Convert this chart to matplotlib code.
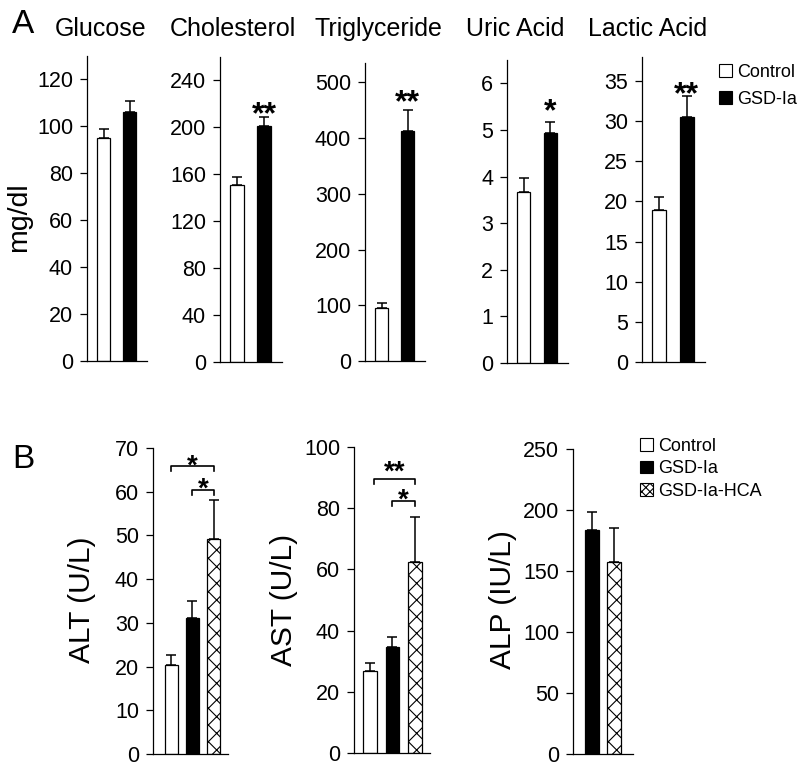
import matplotlib
matplotlib.use('Agg')
import matplotlib.pyplot as plt
from matplotlib.patches import Patch
import numpy as np

plt.rcParams['font.family'] = ['Liberation Sans', 'DejaVu Sans']
plt.rcParams['hatch.linewidth'] = 0.8

# ---- panel A data (mg/dl) ----
a_titles = ["Glucose", "Cholesterol", "Triglyceride", "Uric Acid", "Lactic Acid"]
a_control = [95, 151, 96, 3.66, 18.9]
a_control_err = [4, 7, 9, 0.31, 1.6]
a_gsd = [106, 201, 413, 4.94, 30.5]
a_gsd_err = [5, 8, 37, 0.24, 2.7]
a_ymax = [130, 260, 535, 6.5, 38]
a_step = [20, 40, 100, 1, 5]
a_stars = ["", "**", "**", "*", "**"]
a_star_y = [None, 219, 480, 5.58, 34.5]

# ---- panel B data ----
b_labels = ["ALT (U/L)", "AST (U/L)", "ALP (IU/L)"]
b_control = [20.4, 26.9, None]
b_control_err = [2.3, 2.4, None]
b_gsd = [31.1, 34.8, 183.6]
b_gsd_err = [4.0, 3.2, 15]
b_hca = [49.1, 62.4, 157]
b_hca_err = [8.9, 14.8, 28]
b_ymax = [70, 100, 250]
b_step = [10, 20, 50]
# brackets: (start group, end group, bracket height, label, label height)
b_brackets = [[(0, 2, 65.8, "*", 67.6), (1, 2, 60.3, "*", 62.3)],
              [(0.2, 2, 89.6, "**", 94.3), (1, 2, 82.3, "*", 85.2)],
              []]

W, H = 800, 768
fig = plt.figure(figsize=(W / 100, H / 100), dpi=100)

def px_axes(left, right, top, bottom):
    return fig.add_axes([left / W, 1 - bottom / H, (right - left) / W, (bottom - top) / H])

def style(ax, ymax, step):
    for s in ['top', 'right']:
        ax.spines[s].set_visible(False)
    for s in ['left', 'bottom']:
        ax.spines[s].set_linewidth(0.9)
    ax.set_ylim(0, ymax)
    ax.set_yticks(np.arange(0, ymax + 1e-9, step))
    ax.set_xticks([])
    ax.tick_params(axis='y', direction='out', length=5, width=0.9, labelsize=15.5, pad=5)

def errbar(ax, x, v, e):
    ax.errorbar(x, v, yerr=[[0], [e]], fmt='none', ecolor='black', elinewidth=1.1,
                capsize=3.5, capthick=1.1)

# ---- panel A ----
a_rects = [(87, 147, 56, 361), (220, 282, 57, 362), (365, 425, 63, 361),
           (507, 568, 60, 363), (642, 705, 57, 362)]
a_title_x = [101, 233, 378, 515, 648]
for i in range(5):
    ax = px_axes(*a_rects[i])
    style(ax, a_ymax[i], a_step[i])
    ax.set_xlim(-0.63, 1.66)
    ax.bar(0, a_control[i], 0.5, color='white', edgecolor='black', linewidth=0.9)
    ax.bar(1, a_gsd[i], 0.5, color='black', edgecolor='black', linewidth=0.9)
    errbar(ax, 0, a_control[i], a_control_err[i])
    errbar(ax, 1, a_gsd[i], a_gsd_err[i])
    if a_stars[i]:
        ax.annotate(a_stars[i], (1, a_star_y[i]), xytext=(0, -7), textcoords='offset points',
                    ha='center', va='center', fontsize=23, fontweight='bold')
    fig.text(a_title_x[i] / W, 1 - 36 / H, a_titles[i], ha='center', va='baseline', fontsize=18)

fig.text(12 / W, 1 - 33 / H, "A", fontsize=24, va='baseline')
fig.text(19 / W, 1 - 217 / H, "mg/dl", rotation=90, ha='center', va='center', fontsize=20.5)

fig.legend([Patch(facecolor='white', edgecolor='black', linewidth=0.8),
            Patch(facecolor='black', edgecolor='black', linewidth=0.8)],
           ["Control", "GSD-Ia"], loc='upper left', bbox_to_anchor=(719 / W, 1 - 64 / H),
           frameon=False, fontsize=13, handlelength=0.7, handleheight=0.7,
           handletextpad=0.3, labelspacing=0.55, borderpad=0, borderaxespad=0)

# ---- panel B ----
b_rects = [(153, 228, 448, 754), (354, 430, 447, 753), (573, 633, 449, 754)]
b_xlim = [(-0.88, 2.69), (-0.71, 2.67), (0.14, 2.86)]
b_label_x = [82, 284, 503]
for i in range(3):
    ax = px_axes(*b_rects[i])
    style(ax, b_ymax[i], b_step[i])
    ax.set_xlim(*b_xlim[i])
    if b_control[i] is not None:
        ax.bar(0, b_control[i], 0.6, color='white', edgecolor='black', linewidth=0.9)
        errbar(ax, 0, b_control[i], b_control_err[i])
    ax.bar(1, b_gsd[i], 0.6, color='black', edgecolor='black', linewidth=0.9)
    errbar(ax, 1, b_gsd[i], b_gsd_err[i])
    ax.bar(2, b_hca[i], 0.6, color='white', edgecolor='black', linewidth=0.9, hatch='xx')
    errbar(ax, 2, b_hca[i], b_hca_err[i])
    leg = 0.016 * b_ymax[i]
    for x0, x1, y, lab, ly in b_brackets[i]:
        ax.plot([x0, x0, x1, x1], [y - leg, y, y, y - leg], color='black', lw=1.2,
                clip_on=False)
        ax.annotate(lab, ((x0 + x1) / 2, ly), xytext=(0, -6), textcoords='offset points',
                    ha='center', va='center', fontsize=20, fontweight='bold')
    fig.text(b_label_x[i] / W, 1 - 600 / H, b_labels[i], rotation=90, ha='center',
             va='center', fontsize=21.5)

fig.text(12 / W, 1 - 468 / H, "B", fontsize=24, va='baseline')

fig.legend([Patch(facecolor='white', edgecolor='black', linewidth=0.8),
            Patch(facecolor='black', edgecolor='black', linewidth=0.8),
            Patch(facecolor='white', edgecolor='black', linewidth=0.8, hatch='xxxx')],
           ["Control", "GSD-Ia", "GSD-Ia-HCA"], loc='upper left',
           bbox_to_anchor=(640 / W, 1 - 438 / H), frameon=False, fontsize=13,
           handlelength=0.7, handleheight=0.7, handletextpad=0.3, labelspacing=0.3,
           borderpad=0, borderaxespad=0)

fig.savefig("out.png", dpi=100)
